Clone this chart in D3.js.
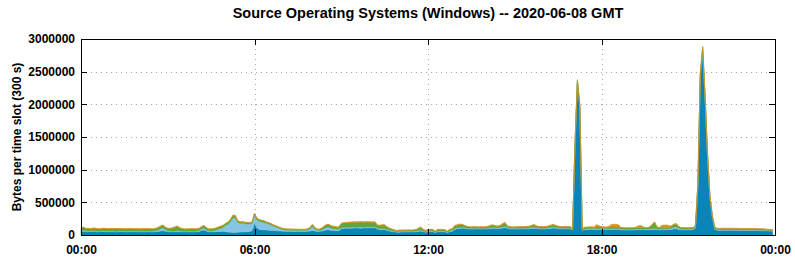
<!DOCTYPE html>
<html><head><meta charset="utf-8">
<script src="https://cdn.jsdelivr.net/npm/d3@7"></script>
<style>
body{margin:0;background:#fff}
svg{display:block}
text{font-family:"Liberation Sans",Arial,Helvetica,sans-serif;font-weight:bold;fill:#000}
</style>
</head><body>
<svg id="chart" width="795" height="260"></svg>
<script>
const chartTitle = "Source Operating Systems (Windows) -- 2020-06-08 GMT";
const yAxisLabel = "Bytes per time slot (300 s)";
const yTickValues = [0, 500000, 1000000, 1500000, 2000000, 2500000, 3000000];
const xTickLabels = ["00:00", "06:00", "12:00", "18:00", "00:00"];
const slotSeconds = 300;
const dayStart = "2020-06-08T00:00:00Z";
const unit = 1000; // values below are in thousands of bytes
const seriesKeys = ["s1", "s2", "s3", "s4"];

// bottom layer (dark blue)
const series1 = [
55,58,52,50,54,56,50,48,52,55,50,49,
50,52,48,47,50,53,49,46,50,52,48,50,
48,50,46,49,51,47,48,52,55,60,65,58,
52,50,48,49,50,48,47,46,48,50,49,47,
48,52,70,78,60,50,48,48,50,52,55,58,
50,45,42,40,40,42,45,45,48,50,55,65,
180,110,85,80,78,75,72,70,68,65,62,60,
58,56,55,57,55,54,56,55,53,55,56,60,
70,62,55,56,60,70,80,78,70,68,65,66,
95,100,102,105,104,106,108,107,105,106,108,107,
108,110,112,90,80,82,85,70,60,52,48,42,
44,46,45,47,46,45,47,48,55,60,50,42,
50,52,50,38,50,52,48,50,36,52,55,80,
95,100,105,102,95,92,90,92,93,90,92,91,
92,95,100,102,98,95,100,108,115,100,92,90,
90,92,91,93,92,94,95,100,105,98,94,92,
92,94,96,100,108,102,96,93,92,94,93,92,
75,1380,2340,1960,72,80,82,84,83,82,85,84,
84,83,82,84,85,86,85,84,80,78,77,76,
76,77,78,79,80,81,79,78,80,82,86,80,
78,80,82,81,80,85,92,95,85,79,78,77,
78,78,80,110,750,2430,2810,2070,1210,570,270,85,
72,70,71,72,70,71,72,70,71,70,69,70,
70,69,68,70,68,67,66,65,64,62,60,58];

// second layer (light blue)
const series2 = [
12,14,12,10,11,12,10,12,11,10,12,11,
11,12,10,11,12,10,11,12,10,11,12,10,
10,11,12,10,11,10,12,14,20,35,45,25,
14,12,12,14,18,15,12,11,10,11,10,12,
12,16,25,28,20,14,14,16,25,35,45,60,
100,120,160,220,225,150,130,135,125,120,115,110,
125,120,125,120,115,100,95,80,65,55,45,30,
22,20,18,17,18,16,15,16,17,16,18,30,
60,30,18,16,20,30,40,38,30,28,25,24,
15,16,15,14,16,15,14,15,16,15,14,15,
15,14,15,14,15,14,14,13,14,13,12,10,
12,12,11,12,12,11,12,12,15,18,12,10,
12,12,11,8,12,11,12,11,8,12,12,14,
15,16,15,14,13,12,12,13,12,12,13,12,
12,13,14,14,13,13,14,16,18,14,12,12,
12,12,13,12,12,13,13,14,16,14,12,12,
12,13,14,15,16,14,13,12,12,13,12,12,
8,8,10,10,8,12,12,13,12,12,14,13,
13,12,12,13,13,13,13,13,12,12,12,12,
12,12,12,13,13,12,12,12,13,14,16,13,
12,13,13,13,12,18,28,30,18,13,12,12,
12,12,12,14,15,20,25,20,14,10,10,10,
11,10,11,10,11,10,11,10,10,11,10,10,
10,10,11,10,10,10,9,10,9,9,9,8];

// third layer (green)
const series3 = [
40,45,35,38,30,36,40,33,30,35,38,34,
35,32,36,38,34,30,33,36,35,32,30,34,
33,30,34,36,32,34,30,32,35,38,36,34,
34,36,45,55,60,45,35,32,33,30,34,31,
32,30,30,35,30,25,28,30,30,32,30,28,
25,28,30,35,33,25,22,20,20,20,18,22,
25,25,22,22,22,20,20,20,18,18,17,16,
16,15,16,15,14,16,15,14,16,15,16,20,
30,22,16,16,25,35,38,40,35,32,30,30,
65,68,70,72,75,76,74,75,78,76,75,77,
74,72,70,45,50,55,52,38,30,22,18,12,
16,15,16,15,16,15,16,18,28,35,20,15,
18,20,19,10,20,18,20,19,10,20,22,40,
38,40,38,30,22,20,18,18,17,18,17,18,
18,22,30,32,25,24,30,42,50,20,18,18,
18,19,18,20,19,20,22,28,32,24,20,19,
19,20,24,30,32,26,21,19,18,19,20,19,
12,10,20,18,10,22,22,23,22,22,25,24,
24,23,22,24,25,26,25,24,20,18,18,18,
18,18,19,20,22,20,19,18,28,60,95,30,
18,20,21,22,20,30,42,45,25,18,18,18,
18,18,18,20,25,35,40,30,20,15,15,18,
18,17,18,19,18,17,18,19,18,17,18,17,
17,18,17,16,17,16,16,15,15,14,14,13];

// top layer (orange)
const series4 = [
6,5,4,5,6,4,5,3,4,6,5,4,
4,5,6,4,5,6,4,3,5,4,6,5,
5,4,6,5,4,5,6,5,7,8,9,6,
5,6,8,10,12,8,5,4,5,4,5,4,
5,5,6,7,6,5,4,5,5,6,6,6,
6,7,8,10,9,7,6,6,5,5,5,6,
7,6,6,6,5,5,5,5,4,4,4,4,
4,3,4,3,4,3,4,3,4,3,4,5,
6,5,4,4,5,6,7,6,5,5,5,5,
5,6,5,6,5,6,5,6,6,5,6,5,
6,5,6,5,6,8,7,6,5,4,4,3,
5,4,5,4,5,6,5,6,10,12,6,5,
6,7,5,3,6,5,6,5,3,6,6,10,
10,12,10,8,7,6,5,6,5,6,5,6,
6,8,10,10,8,7,9,12,12,6,5,5,
6,5,6,6,5,6,7,9,10,7,6,6,
6,6,7,9,10,8,7,6,6,6,7,6,
4,5,10,10,4,8,8,7,8,10,35,20,
8,7,8,10,38,40,40,38,8,5,5,5,
5,5,8,25,35,20,6,5,6,5,7,5,
5,35,38,38,35,8,6,6,5,5,5,5,
4,4,5,6,10,15,15,10,6,5,5,5,
4,3,4,3,4,5,4,3,4,3,4,3,
4,3,4,3,4,3,3,4,3,3,3,3];

const seriesColors = ["#0a84b9", "#86c4e4", "#5da73b", "#dd8f1c"];

// ---- layout ----
const W = 795, H = 260;
const margin = {left: 81, right: 20, top: 39, bottom: 25};
const pw = W - margin.left - margin.right;
const ph = H - margin.top - margin.bottom;

const svg = d3.select("#chart");
const t0 = new Date(dayStart);
const t1 = new Date(t0.getTime() + 24 * 3600 * 1000);

const x = d3.scaleUtc().domain([t0, t1]).range([margin.left, margin.left + pw]);
const y = d3.scaleLinear().domain([0, 3000000]).range([margin.top + ph, margin.top]);

const rows = series1.map((v, i) => ({
  t: new Date(t0.getTime() + i * slotSeconds * 1000),
  s1: series1[i] * unit, s2: series2[i] * unit, s3: series3[i] * unit, s4: series4[i] * unit
}));
const stacked = d3.stack().keys(seriesKeys)(rows);

const xTickDates = d3.utcHour.every(6).range(t0, new Date(t1.getTime() + 1));

// grid
const grid = svg.append("g").attr("stroke", "#a8a8a8").attr("stroke-width", 1)
  .attr("stroke-dasharray", "1,4").attr("shape-rendering", "crispEdges");
yTickValues.filter(v => v > 0 && v < 3000000).forEach(v => {
  grid.append("line").attr("x1", margin.left).attr("x2", margin.left + pw)
    .attr("y1", Math.round(y(v)) + 0.5).attr("y2", Math.round(y(v)) + 0.5);
});
xTickDates.slice(1, -1).forEach(d => {
  grid.append("line").attr("y1", margin.top).attr("y2", margin.top + ph)
    .attr("x1", Math.round(x(d)) + 0.5).attr("x2", Math.round(x(d)) + 0.5);
});

// areas
const area = d3.area().x(d => x(d.data.t)).y0(d => y(d[0])).y1(d => y(d[1])).curve(d3.curveLinear);
svg.append("g").selectAll("path").data(stacked).join("path")
  .attr("d", area).attr("fill", (d, i) => seriesColors[i])
  .attr("stroke", (d, i) => seriesColors[i]).attr("stroke-width", 0.5);

// axes (inward ticks, mirrored)
const axisStyle = g => { g.select(".domain").remove(); g.selectAll("line").attr("stroke", "#000").attr("shape-rendering", "crispEdges"); };
const labelStyle = g => g.selectAll("text").attr("font-size", 12)
  .attr("font-family", "Liberation Sans, Arial, sans-serif").attr("font-weight", "bold").attr("fill", "#000");
svg.append("g").attr("transform", `translate(${margin.left},0)`)
  .call(d3.axisLeft(y).tickValues(yTickValues).tickSizeInner(-6).tickSizeOuter(0).tickPadding(6).tickFormat(d3.format("d")))
  .call(axisStyle).call(labelStyle);
svg.append("g").attr("transform", `translate(${margin.left + pw},0)`)
  .call(d3.axisRight(y).tickValues(yTickValues).tickSizeInner(-6).tickSizeOuter(0).tickFormat(""))
  .call(axisStyle);
svg.append("g").attr("transform", `translate(0,${margin.top + ph})`)
  .call(d3.axisBottom(x).tickValues(xTickDates).tickSizeInner(-6).tickSizeOuter(0).tickPadding(10)
    .tickFormat((d, i) => xTickLabels[i]))
  .call(axisStyle).call(labelStyle);
svg.append("g").attr("transform", `translate(0,${margin.top})`)
  .call(d3.axisTop(x).tickValues(xTickDates).tickSizeInner(-6).tickSizeOuter(0).tickFormat(""))
  .call(axisStyle);

// border
svg.append("rect").attr("x", margin.left + 0.5).attr("y", margin.top + 0.5)
  .attr("width", pw).attr("height", ph).attr("fill", "none").attr("stroke", "#000")
  .attr("shape-rendering", "crispEdges");

// title & label
svg.append("text").attr("x", margin.left + pw / 2).attr("y", 18).attr("text-anchor", "middle")
  .attr("font-size", 14.5).text(chartTitle);
svg.append("text").attr("transform", `translate(21,${margin.top + ph / 2}) rotate(-90)`)
  .attr("text-anchor", "middle").attr("font-size", 12).text(yAxisLabel);
</script>
</body></html>
